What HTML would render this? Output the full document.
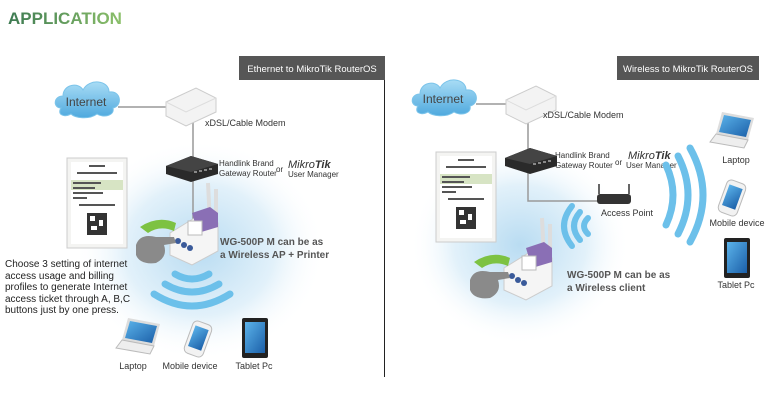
<!DOCTYPE html>
<html><head><meta charset="utf-8"><style>
html,body{margin:0;padding:0;background:#fff;}
svg{display:block;font-family:"Liberation Sans",sans-serif;}
.t{font-size:9px;fill:#333;}
.b{font-size:10px;font-weight:bold;fill:#555;}
</style></head><body>
<svg width="779" height="401" viewBox="0 0 779 401" xmlns="http://www.w3.org/2000/svg">
<defs>
<linearGradient id="tg" x1="0" x2="1"><stop offset="0" stop-color="#3d7a52"/><stop offset="1" stop-color="#8cc06a"/></linearGradient>
<radialGradient id="glow"><stop offset="0" stop-color="#b9dcf2"/><stop offset="0.6" stop-color="#e2f1fa"/><stop offset="1" stop-color="#fff" stop-opacity="0"/></radialGradient>
<linearGradient id="cl" x1="0" y1="0" x2="0" y2="1"><stop offset="0" stop-color="#a8dcf5"/><stop offset="1" stop-color="#4fa9de"/></linearGradient>
<linearGradient id="scr" x1="0" y1="0" x2="1" y2="1"><stop offset="0" stop-color="#5bb3ea"/><stop offset="1" stop-color="#1b5fa8"/></linearGradient>
<g id="cloud"><path d="M8 30 C0 30 0 18 10 18 C10 6 26 4 30 12 C36 0 56 2 56 14 C68 12 70 28 60 30 C62 38 50 40 44 36 C36 42 22 40 18 36 C10 40 4 36 8 30Z" fill="url(#cl)" stroke="#7cc4ea"/></g>
<g id="ticket"><rect x="0" y="0" width="60" height="90" fill="#f4f4f2" stroke="#ccc"/>
<rect x="4" y="4" width="52" height="82" fill="#fff"/>
<rect x="4" y="22" width="52" height="10" fill="#d7e4c4"/>
<g fill="#555"><rect x="22" y="7" width="16" height="2"/><rect x="10" y="14" width="40" height="2"/><rect x="6" y="24" width="28" height="2"/><rect x="6" y="29" width="22" height="2"/><rect x="6" y="34" width="30" height="2"/><rect x="6" y="39" width="14" height="2"/><rect x="12" y="46" width="36" height="2"/></g>
<rect x="20" y="55" width="20" height="22" fill="#333"/><rect x="23" y="58" width="5" height="5" fill="#fff"/><rect x="32" y="62" width="4" height="6" fill="#fff"/><rect x="24" y="68" width="6" height="4" fill="#fff"/></g>
<g id="router"><path d="M0 10 L25 0 L52 8 L52 18 L25 26 L0 18Z" fill="#2a2a2a"/><path d="M0 10 L25 0 L52 8 L25 16Z" fill="#444"/><g fill="#888"><rect x="28" y="15" width="3" height="2"/><rect x="33" y="14" width="3" height="2"/><rect x="38" y="13" width="3" height="2"/><rect x="43" y="12" width="3" height="2"/></g></g>
<g id="modem"><path d="M0 14 L30 0 L50 10 L50 24 L20 38 L0 28Z" fill="#f3f3f3" stroke="#ccc"/><path d="M0 14 L20 24 L50 10" fill="none" stroke="#ddd"/></g>
<g id="printer"><path d="M42 -20 L44 20" stroke="#ddd" stroke-width="4"/><path d="M50 -14 L50 20" stroke="#ddd" stroke-width="4"/>
<path d="M4 30 L30 14 L52 20 L52 48 L26 62 L4 52Z" fill="#f5f5f5" stroke="#ccc"/>
<path d="M26 10 L44 4 L52 10 L52 24 L32 30Z" fill="#8a6fb5"/>
<rect x="22" y="18" width="14" height="14" fill="#fff" stroke="#bbb"/>
<circle cx="12" cy="38" r="3" fill="#3a5a9a"/><circle cx="18" cy="42" r="3" fill="#3a5a9a"/><circle cx="24" cy="45" r="3" fill="#3a5a9a"/>
<path d="M-26 24 Q-8 12 10 20 L8 28 Q-6 22 -18 30Z" fill="#7dc242"/>
<path d="M-30 42 Q-26 30 -10 34 L8 34 L10 40 L-2 42 Q2 54 -10 60 Q-26 62 -30 52Z" fill="#8a8a8a"/></g>
<g id="laptop"><path d="M8 0 L40 6 L34 28 L2 22Z" fill="#ddd"/><path d="M10 3 L37 8 L32 25 L5 20Z" fill="url(#scr)"/><path d="M2 22 L34 28 L30 36 L-4 30Z" fill="#eee" stroke="#bbb"/></g>
<g id="phone"><rect x="6" y="0" width="20" height="34" rx="5" transform="rotate(20 16 17)" fill="#f2f2f2" stroke="#bbb"/><rect x="9" y="5" width="14" height="22" transform="rotate(20 16 17)" fill="url(#scr)"/></g>
<g id="tablet"><rect x="0" y="0" width="26" height="40" rx="2" fill="#222"/><rect x="3" y="4" width="20" height="31" fill="url(#scr)"/></g>
<g id="mk"><text x="0" y="10" font-size="11" font-style="italic" fill="#333" font-family="Liberation Sans,sans-serif">Mikro<tspan font-weight="bold">Tik</tspan></text></g>
</defs>
<text x="8" y="24" font-size="17" font-weight="bold" fill="url(#tg)">APPLICATION</text>

<!-- left panel -->
<ellipse cx="200" cy="250" rx="125" ry="110" fill="url(#glow)"/>
<rect x="239" y="56" width="146" height="24" fill="#565656"/>
<text x="312" y="72" text-anchor="middle" font-size="9.5" fill="#fff">Ethernet to MikroTik RouterOS</text>
<line x1="384.5" y1="80" x2="384.5" y2="377" stroke="#222" stroke-width="1"/>
<use href="#cloud" x="53" y="78"/>
<text x="86" y="106" text-anchor="middle" font-size="12" fill="#444">Internet</text>
<line x1="118" y1="107" x2="168" y2="107" stroke="#999" stroke-width="1.5"/>
<line x1="193" y1="122" x2="193" y2="220" stroke="#999" stroke-width="1.5"/>
<use href="#modem" x="166" y="88"/>
<text x="205" y="126" class="t">xDSL/Cable Modem</text>
<use href="#router" x="166" y="156"/>
<text x="219" y="166" font-size="8" fill="#333">Handlink Brand</text>
<text x="219" y="176" font-size="8" fill="#333">Gateway Router</text>
<text x="276" y="172" font-size="8" fill="#333">or</text>
<use href="#mk" x="288" y="158"/>
<text x="288" y="177" font-size="8" fill="#333">User Manager</text>
<use href="#ticket" x="67" y="158"/>
<use href="#printer" x="166" y="203"/>
<text x="220" y="245" class="b">WG-500P M can be as</text>
<text x="220" y="258" class="b">a Wireless AP + Printer</text>
<g font-size="10" fill="#222"><text x="5" y="267">Choose 3 setting of internet</text><text x="5" y="279">access usage and billing</text><text x="5" y="290">profiles to  generate Internet</text><text x="5" y="302">access ticket through A, B,C</text><text x="5" y="313">buttons just by one press.</text></g>
<g fill="none" stroke="#6cc0ea" stroke-width="7" stroke-linecap="round"><path d="M175 274 Q192 284 209 274"/><path d="M165 284 Q192 300 219 284"/><path d="M154 294 Q192 318 230 294"/></g>
<use href="#laptop" x="120" y="318"/>
<use href="#phone" x="182" y="322"/>
<use href="#tablet" x="242" y="318"/>
<g class="t" text-anchor="middle"><text x="133" y="369">Laptop</text><text x="190" y="369">Mobile device</text><text x="254" y="369">Tablet Pc</text></g>

<!-- right panel -->
<ellipse cx="520" cy="245" rx="110" ry="100" fill="url(#glow)"/>
<rect x="617" y="56" width="142" height="24" fill="#565656"/>
<text x="688" y="72" text-anchor="middle" font-size="9.5" fill="#fff">Wireless to MikroTik RouterOS</text>
<use href="#cloud" x="410" y="76"/>
<text x="443" y="103" text-anchor="middle" font-size="12" fill="#444">Internet</text>
<line x1="476" y1="104" x2="508" y2="104" stroke="#999" stroke-width="1.5"/>
<polyline points="528,118 528,201 600,201" fill="none" stroke="#999" stroke-width="1.5"/>
<use href="#modem" x="506" y="86"/>
<text x="543" y="118" class="t">xDSL/Cable Modem</text>
<use href="#router" x="505" y="148"/>
<text x="555" y="158" font-size="8" fill="#333">Handlink Brand</text>
<text x="555" y="168" font-size="8" fill="#333">Gateway Router</text>
<text x="615" y="165" font-size="8" fill="#333">or</text>
<use href="#mk" x="628" y="149"/>
<text x="626" y="168" font-size="8" fill="#333">User Manager</text>
<use href="#ticket" x="436" y="152"/>
<rect x="597" y="194" width="34" height="10" rx="3" fill="#333"/>
<line x1="599" y1="194" x2="599" y2="184" stroke="#333" stroke-width="1.5"/><line x1="629" y1="194" x2="629" y2="184" stroke="#333" stroke-width="1.5"/>
<text x="601" y="216" class="t">Access Point</text>
<g fill="none" stroke="#6cc0ea" stroke-width="6" stroke-linecap="round"><path d="M588 218 Q580 226 588 234"/><path d="M580 212 Q568 226 580 240"/><path d="M572 206 Q556 226 572 246"/>
<path d="M666 165 Q680 195 666 225" stroke-width="7"/><path d="M678 156 Q698 195 678 234" stroke-width="7"/><path d="M690 148 Q716 195 690 242" stroke-width="7"/></g>
<use href="#laptop" x="714" y="112"/>
<use href="#phone" x="716" y="181"/>
<use href="#tablet" x="724" y="238"/>
<g class="t" text-anchor="middle"><text x="736" y="163">Laptop</text><text x="737" y="226">Mobile device</text><text x="736" y="288">Tablet Pc</text></g>
<use href="#printer" x="500" y="238"/>
<text x="567" y="278" class="b">WG-500P M can be as</text>
<text x="567" y="291" class="b">a Wireless client</text>
</svg>
</body></html>
